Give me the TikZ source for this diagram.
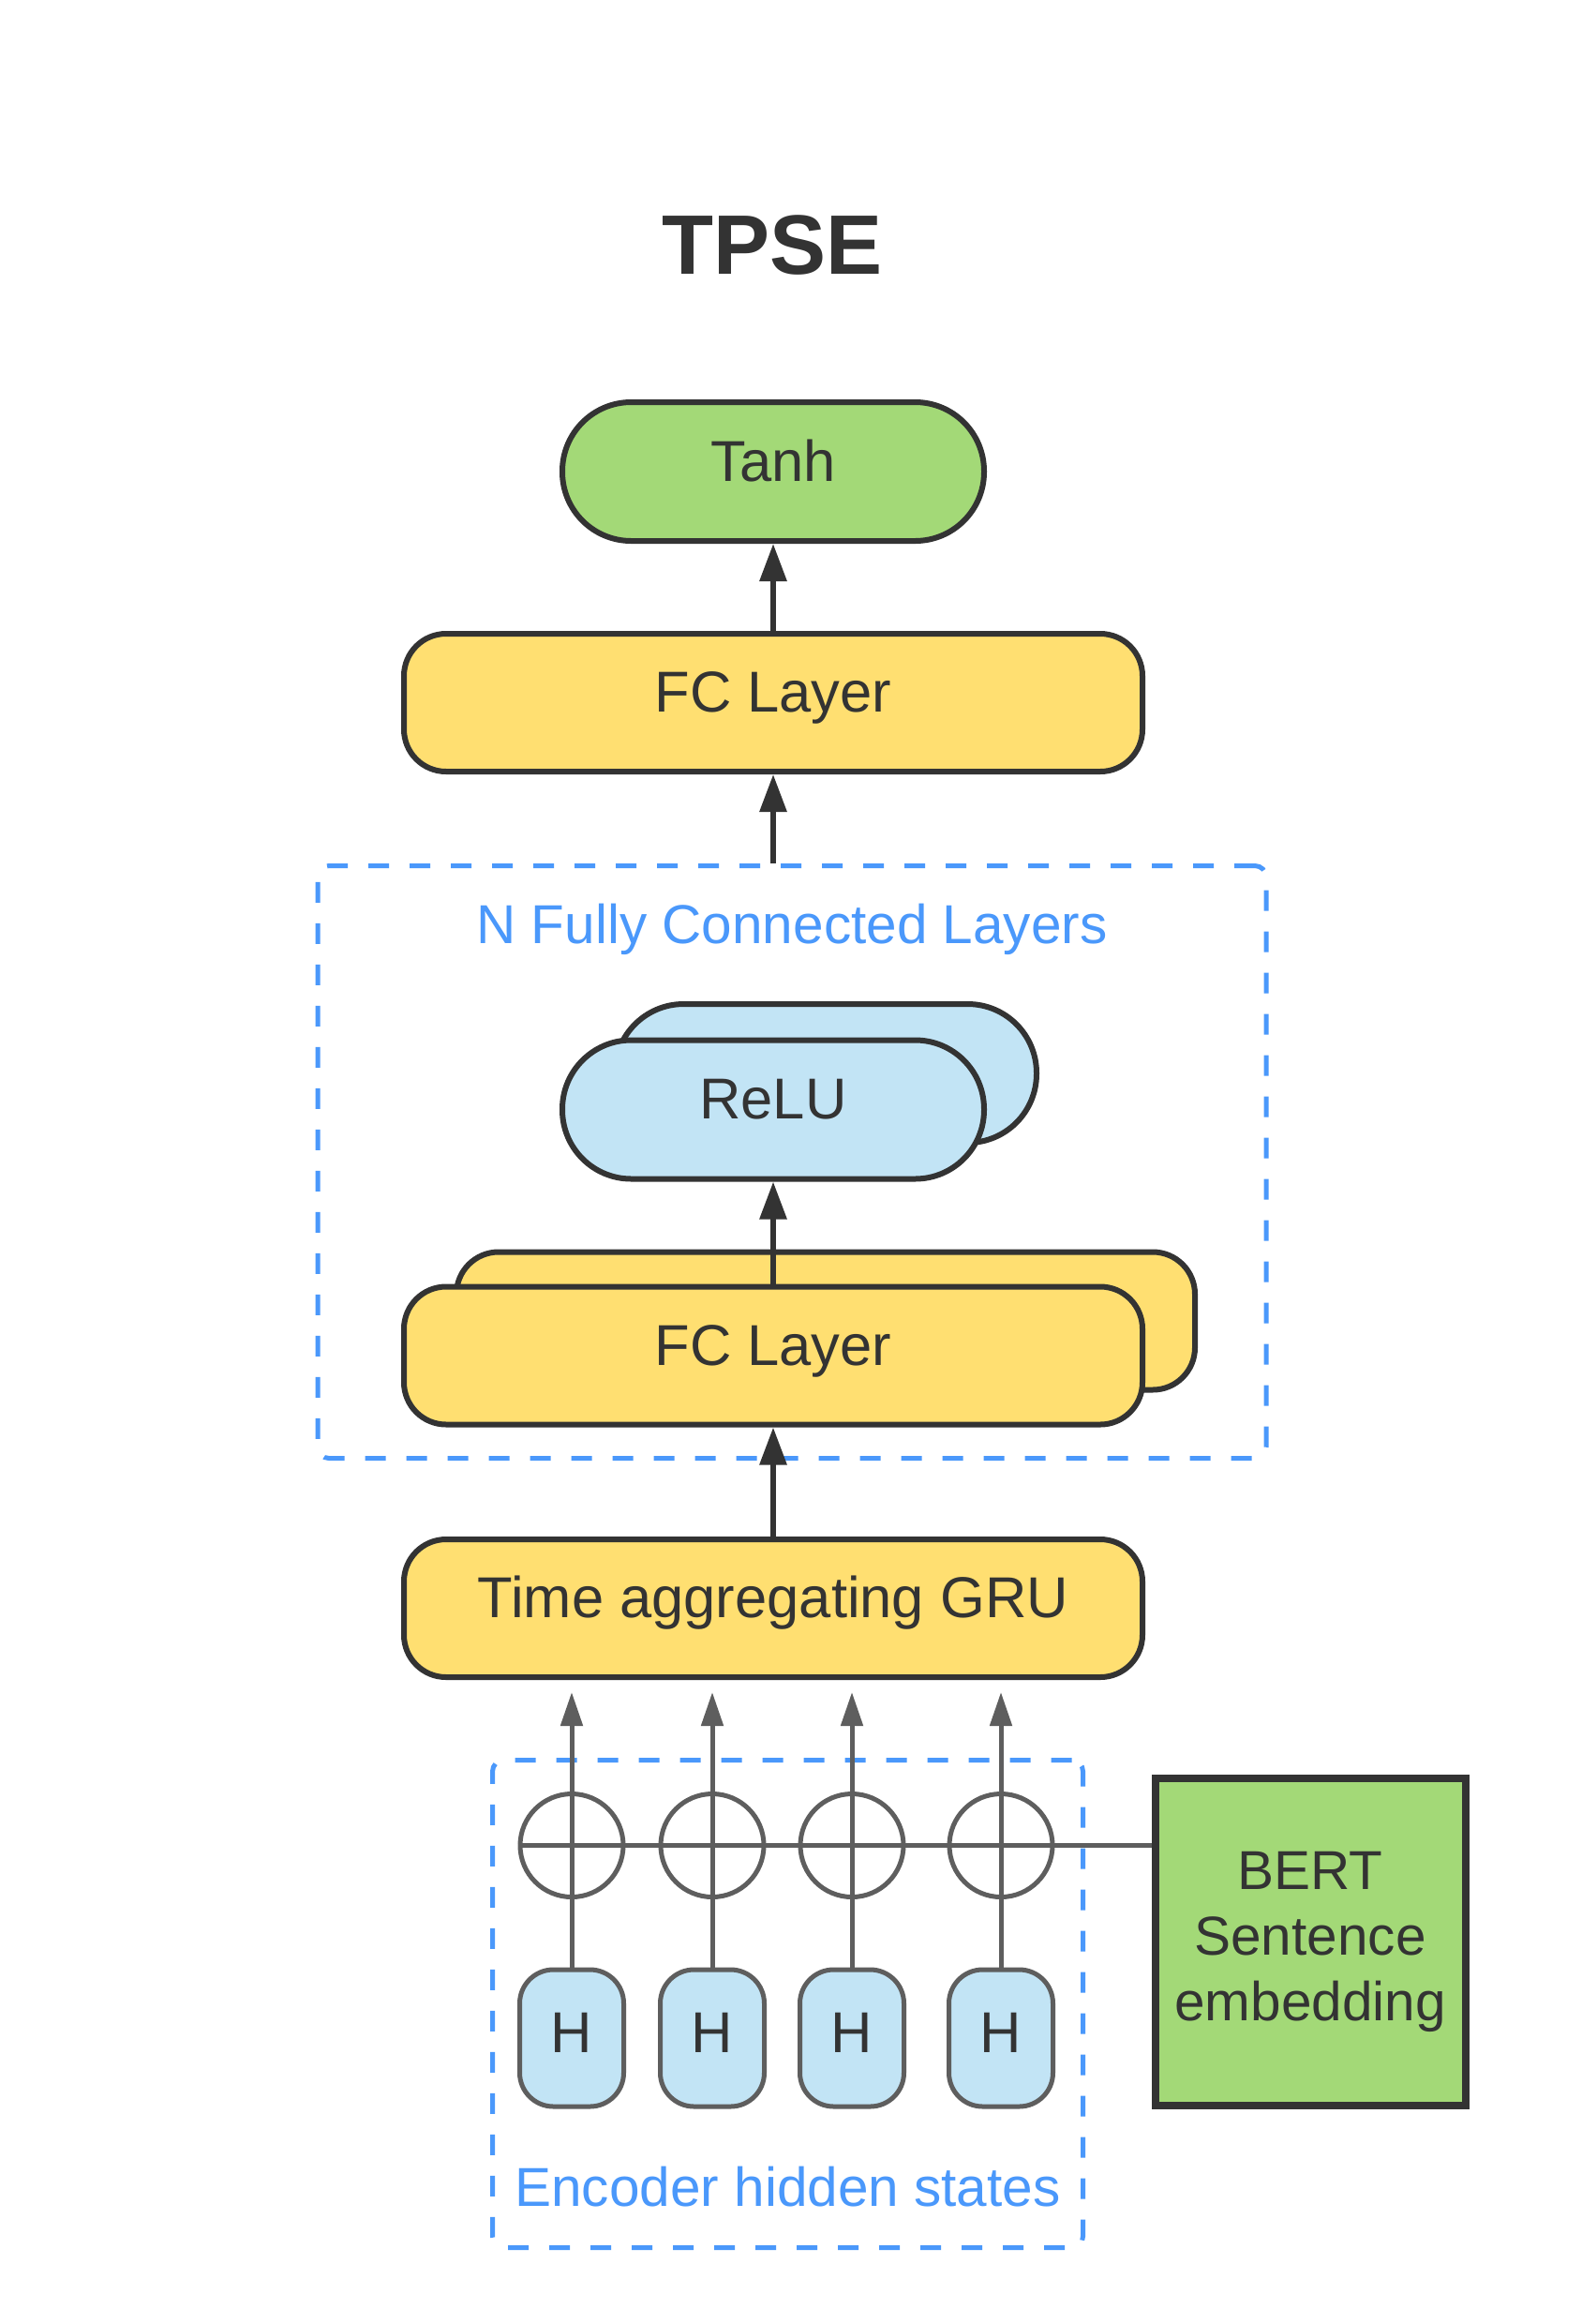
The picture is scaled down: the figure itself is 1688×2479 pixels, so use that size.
\documentclass[tikz,border=0pt]{standalone}
\usepackage{fontspec}
\setmainfont{Liberation Sans}
\usetikzlibrary{arrows.meta}
\definecolor{dark}{HTML}{333333}
\definecolor{gfill}{HTML}{A3D977}
\definecolor{yfill}{HTML}{FFDF71}
\definecolor{bfill}{HTML}{C2E4F5}
\definecolor{dblue}{HTML}{4A98FB}
\definecolor{graycol}{HTML}{5E5E5E}
\begin{document}
\begin{tikzpicture}[x=1pt,y=-1pt,
 box/.style={draw=dark, line width=6pt, fill=yfill, text=dark, font=\fontsize{61.5}{72}\selectfont, inner sep=0pt, text height=42pt, text depth=22pt},
 fcbox/.style={box, minimum width=788pt, minimum height=147pt, rounded corners=45pt},
 pill/.style={box, minimum width=450pt, minimum height=148pt, rounded corners=73.5pt},
 darrow/.style={draw=dark, line width=6pt, -{Triangle[length=40pt,width=28pt]}},
 groupbox/.style={draw=dblue, line width=5pt, dash pattern=on 22pt off 22pt, rounded corners=12pt, inner sep=0pt},
 grouplabel/.style={text=dblue, font=\fontsize{58.5}{70}\selectfont, anchor=base, inner sep=0pt},
 hbox/.style={draw=graycol, line width=5pt, fill=bfill, text=dark, minimum width=111pt, minimum height=146pt, rounded corners=36pt, inner sep=0pt, font=\fontsize{61.5}{72}\selectfont, text height=42pt, text depth=12pt},
 sumc/.style={draw=graycol, line width=5pt, circle, minimum size=110pt, inner sep=0pt},
 grayln/.style={draw=graycol, line width=5pt},
 garrow/.style={grayln, -{Triangle[length=36pt,width=23pt]}},
]
\useasboundingbox[fill=white] (0,0) rectangle (1688,2479);

% title
\node[text=dark, font=\fontsize{90}{100}\selectfont\bfseries, anchor=base, inner sep=0pt] (title) at (824,292) {TPSE};

% top part
\node[pill, fill=gfill] (tanh) at (825,503) {Tanh};
\node[fcbox] (fc) at (825,749.5) {FC Layer};

% N fully connected group
\node[groupbox, minimum width=1012pt, minimum height=632pt] (nfc) at (845,1239.5) {};
\node[grouplabel] (nfclabel) at (845,1006) {N Fully Connected Layers};
\node[pill, fill=bfill] (relub) at (881,1145) {};
\node[pill, fill=bfill] (relu) at (825,1183.5) {ReLU};
\node[fcbox] (fc2b) at (881,1409) {};
\node[fcbox] (fc2) at (825,1446) {FC Layer};

% GRU
\node[fcbox] (gru) at (825,1715.5) {Time aggregating GRU};

% arrows
\draw[darrow] (fc.north) -- (tanh.south);
\draw[darrow] (fc.south |- nfc.north) -- (fc.south);
\draw[darrow] (fc2.north) -- (relu.south);
\draw[darrow] (gru.north) -- (fc2.south);

% encoder group
\node[groupbox, minimum width=630pt, minimum height=520pt] (enc) at (840.5,2137.5) {};
\node[grouplabel] (enclabel) at (840.5,2353) {Encoder hidden states};

% BERT
\node[draw=dark, line width=8pt, fill=gfill, text=dark, minimum width=331pt, minimum height=349pt, inner sep=0pt, align=center, font=\fontsize{58.5}{70}\selectfont] (bert) at (1398,2071.5) {BERT\\Sentence\\embedding};

% sum circles
\node[sumc] (c1) at (610,1968.5) {};
\node[sumc] (c2) at (760,1968.5) {};
\node[sumc] (c3) at (909,1968.5) {};
\node[sumc] (c4) at (1068,1968.5) {};

\coordinate (gb) at ([yshift=-13pt]gru.south);
\draw[grayln] (c1.west) -- (c1.west -| bert.west);

% H nodes
\node[hbox] (h1) at (610,2174) {H};
\node[hbox] (h2) at (760,2174) {H};
\node[hbox] (h3) at (909,2174) {H};
\node[hbox] (h4) at (1068,2174) {H};

\foreach \i in {1,...,4} \draw[garrow] (h\i.north) -- (h\i.north |- gb);
\end{tikzpicture}
\end{document}
